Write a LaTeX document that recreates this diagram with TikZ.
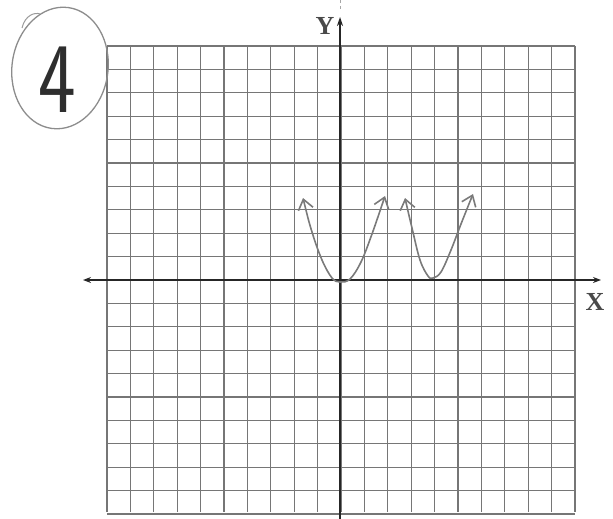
\documentclass[tikz,border=0pt]{standalone}
\usepackage{fontspec}
\newfontfamily\labfont{Liberation Serif}
\usetikzlibrary{arrows.meta}
\definecolor{gridc}{HTML}{767676}
\definecolor{pencil}{HTML}{7A7A7A}
\definecolor{ink}{HTML}{2E2E2E}
\definecolor{lab}{HTML}{4A4A4A}
\tikzset{
  gridline/.style={draw=gridc, line width=1.1pt},
  axisline/.style={draw=black!85, line width=1.3pt},
  curveline/.style={draw=pencil, line width=1.6pt, line cap=round, line join=round},
  axlabel/.style={text=lab, font=\labfont\bfseries\fontsize{26}{26}\selectfont, inner sep=0pt},
  handtip/.tip={Straight Barb[length=10pt, width=15pt, line width=1.6pt]}
}
\begin{document}
\begin{tikzpicture}[x=1pt, y=-1pt]
\useasboundingbox (0,0) rectangle (613,519);
% grid
\foreach \i in {0,...,20} {
  \draw[gridline] ({107+23.4*\i},46) -- ({107+23.4*\i},512);
  \draw[gridline] (107,{46+23.4*\i}) -- (575,{46+23.4*\i});
}
% axes
\coordinate (xl) at (83,280);
\coordinate (xr) at (601,280);
\coordinate (yb) at (340,519);
\coordinate (yt) at (340,17);
\draw[axisline, {Stealth[length=8pt,width=6pt]}-{Stealth[length=8pt,width=6pt]}] (xl) -- (xr);
\draw[axisline, -{Stealth[length=9pt,width=6pt]}] (yb) -- (yt);
\draw[draw=black!35, line width=1pt, dash pattern=on 3pt off 3pt] (340,0) -- (340,12);
\node[axlabel] (ylab) at (325,26) {Y};
\node[axlabel] (xlab) at (595,302) {X};
% circled 4
\draw[draw=black!45, line width=1.3pt, rotate around={-8:(60,68)}] (60,68) ellipse [x radius=48, y radius=61];
\draw[draw=black!40, line width=1pt] (22,28) .. controls (25,15) and (35,12) .. (40,14);
\node[text=ink, inner sep=0pt, xscale=0.8] (four) at (57,80) {\sffamily\fontsize{100}{100}\selectfont 4};
% parabolas
\draw[curveline, handtip-handtip]
  plot[smooth, tension=0.6] coordinates {(303,198) (312,232) (322,260) (332,278) (340,282) (350,279) (361,262) (372,234) (385,196)};
\draw[curveline, handtip-handtip]
  plot[smooth, tension=0.6] coordinates {(405,198) (412,228) (420,260) (428,276) (433,278) (441,272) (451,250) (461,224) (473,194)};
\end{tikzpicture}
\end{document}
